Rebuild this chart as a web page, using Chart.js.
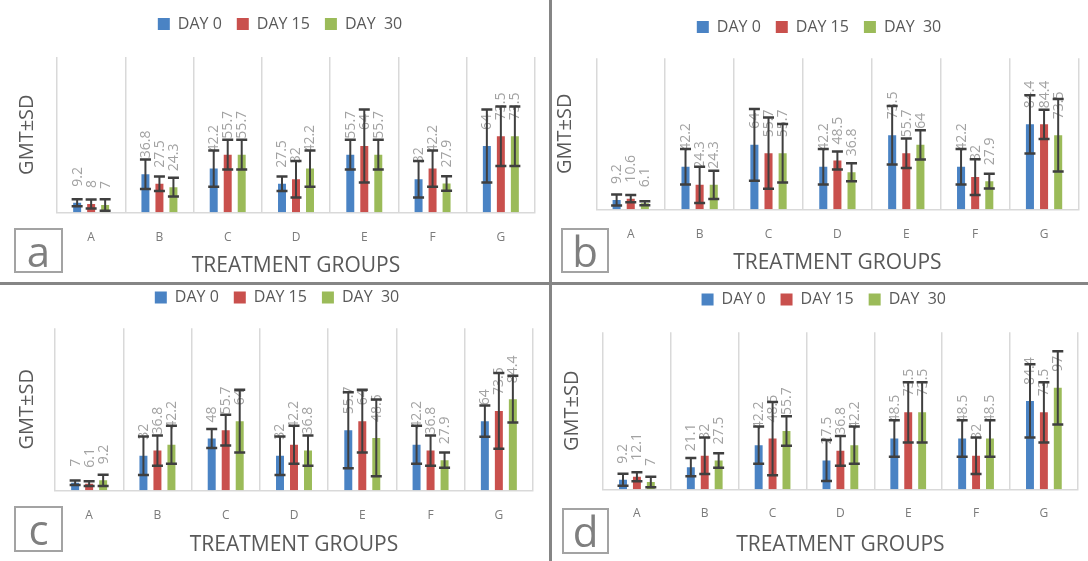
<!DOCTYPE html>
<html>
<head>
<meta charset="utf-8">
<script src="https://cdn.jsdelivr.net/npm/chart.js@4.4.1/dist/chart.umd.min.js"></script>
<style>
  html, body { margin: 0; padding: 0; background: #ffffff; }
  body { width: 1088px; height: 561px; position: relative; overflow: hidden; font-family: "Open Sans", sans-serif; }
  canvas { position: absolute; }
  .rule { position: absolute; background: #858585; z-index: 5; }
  .tag { position: absolute; box-sizing: border-box; border: 2px solid #a3a3a3; color: #7f7f7f;
         font-size: 42px; line-height: 42px; text-align: center; z-index: 4; }
</style>
</head>
<body>
<canvas id="panelA" width="550" height="283" style="left:0px;top:0px"></canvas>
<canvas id="panelB" width="535" height="283" style="left:553px;top:0px"></canvas>
<canvas id="panelC" width="550" height="291" style="left:0px;top:270px"></canvas>
<canvas id="panelD" width="535" height="291" style="left:553px;top:270px"></canvas>

<div class="rule" style="left:549px;top:0px;width:3px;height:561px"></div>
<div class="rule" style="left:0px;top:282px;width:1088px;height:3px"></div>

<div class="tag" style="left:14px;top:228px;width:49px;height:45px">a</div>
<div class="tag" style="left:561px;top:228px;width:48px;height:45px">b</div>
<div class="tag" style="left:14px;top:506px;width:49px;height:46px">c</div>
<div class="tag" style="left:562px;top:508px;width:47px;height:46px">d</div>

<script>
// Treatment groups and sampling days
const groups = ['A', 'B', 'C', 'D', 'E', 'F', 'G'];
const seriesLabels = ['DAY 0', 'DAY 15', 'DAY  30'];
const seriesColors = ['#4a83c4', '#c9504d', '#9bbb59'];
const axisMax = 150;

// Panel a: GMT and SD per group
const aDay0  = [9.2, 36.8, 42.2, 27.5, 55.7, 32, 64];
const aDay15 = [8, 27.5, 55.7, 32, 64, 42.2, 73.5];
const aDay30 = [7, 24.3, 55.7, 42.2, 55.7, 27.9, 73.5];
const aSd0   = [3.4, 14.2, 17.6, 7, 14.4, 17.6, 35.3];
const aSd15  = [4.3, 7, 14.4, 17.6, 35.3, 17.6, 28.7];
const aSd30  = [5.5, 9, 14.4, 17.6, 14.4, 7, 28.7];

// Panel b
const bDay0  = [9.2, 42.2, 64, 42.2, 73.5, 42.2, 84.4];
const bDay15 = [10.6, 24.3, 55.7, 48.5, 55.7, 32, 84.4];
const bDay30 = [6.1, 24.3, 55.7, 36.8, 64, 27.9, 73.5];
const bSd0   = [5.5, 17.6, 35.6, 17.6, 29, 17.6, 29];
const bSd15  = [3.7, 18, 35.4, 9, 14.7, 17.7, 14.6];
const bSd30  = [2, 14, 29, 9, 14.5, 7.3, 36];

// Panel c
const cDay0  = [7, 32, 48, 32, 55.7, 42.2, 64];
const cDay15 = [6.1, 36.8, 55.7, 42.2, 64, 36.8, 73.5];
const cDay30 = [9.2, 42.2, 64, 36.8, 48.5, 27.9, 84.4];
const cSd0   = [2, 17.8, 8.8, 17.8, 35.2, 17.6, 14.5];
const cSd15  = [2.2, 14, 14.2, 17.6, 29, 14, 35];
const cSd30  = [5.2, 17.6, 29, 14, 35.5, 7, 21.6];

// Panel d
const dDay0  = [9.2, 21.1, 42.2, 27.5, 48.5, 48.5, 84.4];
const dDay15 = [12.1, 32, 48.5, 36.8, 73.5, 32, 73.5];
const dDay30 = [7, 27.5, 55.7, 42.2, 73.5, 48.5, 97];
const dSd0   = [5.7, 8.7, 17.7, 19.6, 17.5, 17.5, 35];
const dSd15  = [4.3, 17.4, 35, 14.2, 28.7, 17.4, 28.7];
const dSd30  = [5, 7, 14.2, 17.7, 28.7, 17.5, 35];

Chart.defaults.font.family = '"Open Sans", sans-serif';

// Gives the legend a fixed band height so the plot area starts where wanted.
const legendBand = {
  id: 'legendBand',
  beforeLayout(chart, args, opts) {
    const legend = chart.legend;
    if (!legend || legend._bandFit) return;
    const fit = legend.fit;
    legend.fit = function () { fit.call(this); this.height = opts.height; };
    legend._bandFit = true;
  }
};

// Rotated value labels above each bar, then ±SD whiskers with caps.
const errorBars = {
  id: 'errorBars',
  afterDatasetsDraw(chart) {
    const { ctx, chartArea } = chart;
    const y = chart.scales.y;
    chart.data.datasets.forEach((ds, i) => {
      const meta = chart.getDatasetMeta(i);
      meta.data.forEach((bar, j) => {
        const v = ds.data[j];
        ctx.save();
        ctx.translate(bar.x + 0.5, bar.y - 16);
        ctx.rotate(-Math.PI / 2);
        ctx.textAlign = 'left';
        ctx.textBaseline = 'middle';
        ctx.fillStyle = '#a2a2a2';
        ctx.font = '14px "Open Sans", sans-serif';
        ctx.fillText(String(v), 0, 0);
        ctx.restore();
      });
    });
    chart.data.datasets.forEach((ds, i) => {
      const meta = chart.getDatasetMeta(i);
      meta.data.forEach((bar, j) => {
        const v = ds.data[j], sd = ds.errorBars[j];
        const top = y.getPixelForValue(v + sd);
        const bot = Math.min(y.getPixelForValue(v - sd), chartArea.bottom);
        const x = bar.x;
        ctx.save();
        ctx.strokeStyle = '#3f3f3f';
        ctx.lineWidth = 2;
        ctx.beginPath();
        ctx.moveTo(x, top); ctx.lineTo(x, bot);
        ctx.stroke();
        ctx.lineWidth = 2.5;
        ctx.beginPath();
        ctx.moveTo(x - 5.5, top); ctx.lineTo(x + 5.5, top);
        ctx.moveTo(x - 5.5, bot); ctx.lineTo(x + 5.5, bot);
        ctx.stroke();
        ctx.restore();
      });
    });
  }
};

function buildPanel(id, values, sds, box) {
  const canvas = document.getElementById(id);
  const datasets = values.map((vals, i) => ({
    label: seriesLabels[i],
    data: vals,
    errorBars: sds[i],
    backgroundColor: seriesColors[i],
    borderWidth: 0,
    categoryPercentage: 0.615,
    barPercentage: 0.57
  }));
  return new Chart(canvas, {
    type: 'bar',
    data: { labels: groups, datasets },
    plugins: [legendBand, errorBars],
    options: {
      responsive: false,
      animation: false,
      events: [],
      layout: { padding: { left: box.padL, right: box.padR, top: box.padT, bottom: 0 } },
      plugins: {
        legend: {
          position: 'top',
          labels: { boxWidth: 12, boxHeight: 12, padding: 15, color: '#595959', font: { size: 16 } }
        },
        legendBand: { height: box.legendH },
        tooltip: { enabled: false }
      },
      scales: {
        x: {
          grid: { display: true, offset: true, color: '#d9d9d9', lineWidth: 1.5, drawTicks: false },
          border: { display: true, color: '#d9d9d9', width: 1.5 },
          ticks: { color: '#7a7a7a', font: { size: 12 }, padding: box.tickPad },
          title: {
            display: true, text: 'TREATMENT GROUPS', color: '#595959',
            font: { size: 21 }, padding: { top: 0, bottom: box.xTitlePad }
          },
          afterFit(scale) { scale.height = box.xH; }
        },
        y: {
          min: 0, max: axisMax,
          grid: { display: false },
          border: { display: false },
          ticks: { display: false },
          title: {
            display: true, text: 'GMT±SD', color: '#595959',
            font: { size: 20 }, padding: { top: box.yTitlePad, bottom: 0 }
          },
          afterFit(scale) { scale.width = box.yW; }
        }
      }
    }
  });
}

// padT is reduced by 0.5 because the legend font grew by 1px (item center = padT + padding + fontSize/2)
buildPanel('panelA', [aDay0, aDay15, aDay30], [aSd0, aSd15, aSd30],
  { padL: 25, padR: 15, padT: 1, legendH: 56, yW: 32, yTitlePad: -10, xH: 70.7, tickPad: 18.5, xTitlePad: 4.4 });
buildPanel('panelB', [bDay0, bDay15, bDay30], [bSd0, bSd15, bSd30],
  { padL: 6.5, padR: 9.5, padT: 4, legendH: 54.3, yW: 36.8, yTitlePad: -6, xH: 73.7, tickPad: 18.5, xTitlePad: 7.4 });
buildPanel('panelC', [cDay0, cDay15, cDay30], [cSd0, cSd15, cSd30],
  { padL: 21, padR: 17, padT: 4.5, legendH: 53.8, yW: 34, yTitlePad: -6, xH: 70.7, tickPad: 18.5, xTitlePad: 3.4 });
buildPanel('panelD', [dDay0, dDay15, dDay30], [dSd0, dSd15, dSd30],
  { padL: 16.7, padR: 10.2, padT: 6.5, legendH: 55.8, yW: 33.3, yTitlePad: -9.7, xH: 71.7, tickPad: 17.5, xTitlePad: 3.4 });
</script>
</body>
</html>
